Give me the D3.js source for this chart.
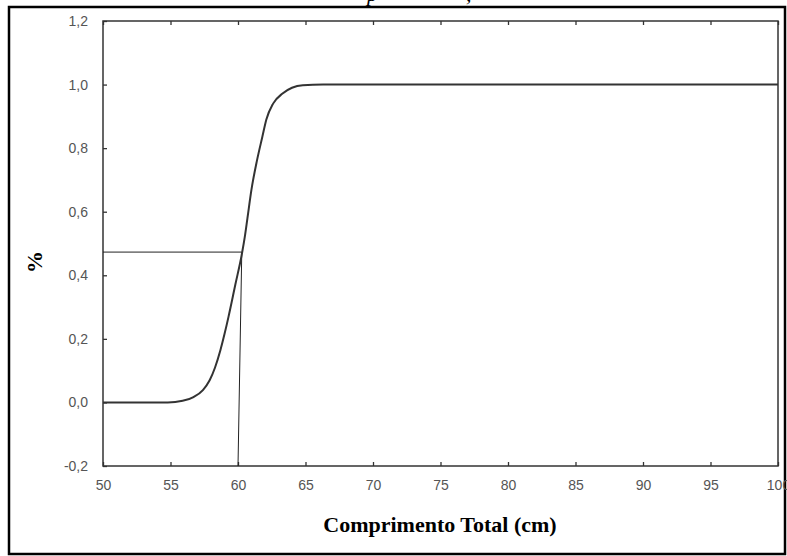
<!DOCTYPE html>
<html>
<head lang="en">
    <meta charset="utf-8">
    <script src="https://d3js.org/d3.v7.min.js"></script>
    <style>
        body { margin: 0; background: #fff; }
    </style>
</head>
<body>
    <div id="chart"></div>
    <script>
        // curve: total length (cm) vs proportion
        const lengths = [50, 54.8, 55.9, 56.7, 57.4, 57.9, 58.3, 58.7, 59.0, 59.3, 59.8, 60.3, 60.5, 60.7, 61.0, 61.4, 61.8, 62.1, 62.6, 63.3, 64.0, 64.8, 66.3, 100];
        const props = [0, 0, 0.005, 0.017, 0.039, 0.07, 0.11, 0.165, 0.215, 0.27, 0.37, 0.47, 0.52, 0.58, 0.67, 0.76, 0.835, 0.89, 0.94, 0.972, 0.99, 0.998, 1.0, 1.0];

        // L50 guide lines
        const guideX = [50, 60.28, 60.0];
        const guideY = [0.473, 0.473, -0.2];

        const xTicks = [50, 55, 60, 65, 70, 75, 80, 85, 90, 95, 100];
        const yTicks = [-0.2, 0, 0.2, 0.4, 0.6, 0.8, 1.0, 1.2];

        const width = 787;
        const height = 556;
        const margin = ({top: 21, right: 9, bottom: 90, left: 103});

        const svg = d3.create('svg')
            .attr('width', width)
            .attr('height', height);

        // outer frame
        svg.append('rect')
            .attr('x', 9).attr('y', 7)
            .attr('width', 776).attr('height', 547)
            .attr('fill', 'none')
            .attr('stroke', '#000')
            .attr('stroke-width', 2.5);

        // clipped caption remains above the frame
        svg.append('text')
            .attr('x', 367).attr('y', 1)
            .attr('font-family', 'Liberation Serif')
            .attr('font-style', 'italic')
            .attr('font-size', '22px')
            .text('p');
        svg.append('text')
            .attr('x', 466).attr('y', 1)
            .attr('font-family', 'Liberation Serif')
            .attr('font-style', 'italic')
            .attr('font-size', '22px')
            .text(',');

        const xScale = d3.scaleLinear()
            .domain([50, 100])
            .range([margin.left, width - margin.right]);

        const yScale = d3.scaleLinear()
            .domain([-0.2, 1.2])
            .range([height - margin.bottom, margin.top]);

        const fmt = d => d3.format('.1f')(d).replace('.', ',').replace('−', '-');

        // bottom axis
        const xAxis = svg.append('g')
            .attr('transform', `translate(0, ${yScale(-0.2)})`)
            .call(d3.axisBottom(xScale).tickValues(xTicks).tickSizeInner(-4).tickSizeOuter(0).tickPadding(14));
        xAxis.selectAll('text')
            .attr('font-family', 'Liberation Sans')
            .attr('font-size', '14px')
            .attr('fill', '#555');

        // top ticks
        svg.append('g')
            .attr('transform', `translate(0, ${yScale(1.2)})`)
            .call(d3.axisTop(xScale).tickValues(xTicks).tickSizeInner(-4).tickSizeOuter(0).tickFormat(''));

        // left axis
        const yAxis = svg.append('g')
            .attr('transform', `translate(${margin.left}, 0)`)
            .call(d3.axisLeft(yScale).tickValues(yTicks).tickSizeInner(-4).tickSizeOuter(0).tickPadding(15).tickFormat(fmt));
        yAxis.selectAll('text')
            .attr('font-family', 'Liberation Sans')
            .attr('font-size', '14px')
            .attr('fill', '#555');

        svg.selectAll('.domain').remove();
        svg.selectAll('.tick line').attr('stroke', '#333').attr('stroke-width', 1.3);

        // plot frame
        svg.append('rect')
            .attr('x', xScale(50)).attr('y', yScale(1.2))
            .attr('width', xScale(100) - xScale(50))
            .attr('height', yScale(-0.2) - yScale(1.2))
            .attr('fill', 'none')
            .attr('stroke', '#333')
            .attr('stroke-width', 1.5);

        // guide lines
        svg.append('path')
            .datum(d3.range(guideX.length))
            .attr('fill', 'none')
            .attr('stroke', '#222')
            .attr('stroke-width', 1)
            .attr('d', d3.line().x(i => xScale(guideX[i])).y(i => yScale(guideY[i])));

        // curve
        svg.append('path')
            .datum(d3.range(lengths.length))
            .attr('fill', 'none')
            .attr('stroke', '#333')
            .attr('stroke-width', 2)
            .attr('d', d3.line().x(i => xScale(lengths[i])).y(i => yScale(props[i])).curve(d3.curveMonotoneX));

        // axis titles
        svg.append('text')
            .attr('x', 440).attr('y', 532)
            .attr('text-anchor', 'middle')
            .attr('font-family', 'Liberation Serif')
            .attr('font-weight', 'bold')
            .attr('font-size', '22px')
            .text('Comprimento Total (cm)');

        svg.append('text')
            .attr('transform', 'translate(42, 262) rotate(-90)')
            .attr('text-anchor', 'middle')
            .attr('font-family', 'Liberation Serif')
            .attr('font-weight', 'bold')
            .attr('font-size', '22px')
            .text('%');

        document.getElementById('chart').appendChild(svg.node());
    </script>
</body>
</html>
